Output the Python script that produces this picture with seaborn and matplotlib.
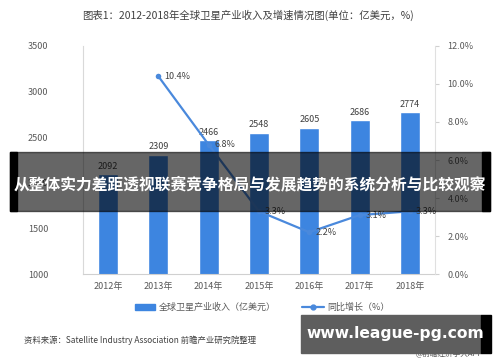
import numpy as np
import pandas as pd
import matplotlib
matplotlib.use('Agg')
import matplotlib.pyplot as plt
import seaborn as sns

years = ['2012年', '2013年', '2014年', '2015年', '2016年', '2017年', '2018年']
revenue = [2092, 2309, 2466, 2548, 2605, 2686, 2774]
growth = [np.nan, 10.4, 6.8, 3.3, 2.2, 3.1, 3.3]
left_ticks = [1000, 1500, 2000, 2500, 3000, 3500]
right_ticks = [0, 2, 4, 6, 8, 10, 12]

sns.set_style('white')
plt.rcParams['font.family'] = ['Noto Sans CJK SC', 'DejaVu Sans']

bar_blue = '#3d85e0'
line_blue = '#4a89dc'
txt = '#595959'

df = pd.DataFrame({'year': years, 'revenue': revenue, 'growth': growth})
df['pos'] = np.arange(len(df))

fig = plt.figure(figsize=(5, 3.62), dpi=100)
ax = fig.add_axes([0.166, 0.243, 0.704, 0.630])

sns.barplot(data=df, x='year', y='revenue', color=bar_blue, width=0.4,
            saturation=1, ax=ax)
ax.set_ylim(1000, 3500)
ax.set_yticks(left_ticks)
ax.set_xlim(-0.5, 6.5)
ax.set_xlabel('')
ax.set_ylabel('')
for i, v in enumerate(revenue):
    ax.text(i, v + 40, str(v), ha='center', va='bottom', fontsize=6.5, color='#404040')

ax.tick_params(axis='y', length=0, labelsize=6.5, labelcolor=txt, pad=25)
ax.tick_params(axis='x', length=0, labelsize=6.5, labelcolor=txt, pad=6)
ax.set_xticks(np.arange(-0.5, 7, 1), minor=True)
ax.tick_params(axis='x', which='minor', length=4, color='#d0d0d0', width=0.8)
for s in ['top', 'right']:
    ax.spines[s].set_visible(False)
ax.spines['left'].set_color('#d9d9d9')
ax.spines['bottom'].set_color('#d0d0d0')

ax2 = ax.twinx()
sns.lineplot(data=df.dropna(), x='pos', y='growth', color=line_blue, lw=1.6,
             marker='o', markersize=4, markeredgewidth=0, ax=ax2)
ax2.set_ylim(0, 12)
ax2.set_yticks(right_ticks)
ax2.set_yticklabels([f'{t:.1f}%' for t in right_ticks])
ax2.set_ylabel('')
ax2.set_xlim(-0.5, 6.5)
ax2.tick_params(axis='y', length=3, color='#d0d0d0', labelsize=6.5, labelcolor=txt, pad=6)
for s in ['top', 'left', 'bottom']:
    ax2.spines[s].set_visible(False)
ax2.spines['right'].set_color('#e0e0e0')
for i, g in enumerate(growth):
    if not np.isnan(g):
        ax2.text(i + 0.12, g, f'{g}%', ha='left', va='center', fontsize=6.5, color='#404040')

fig.text(0.496, 0.958, '图表1：2012-2018年全球卫星产业收入及增速情况图(单位：亿美元，%)',
         ha='center', va='center', fontsize=7.5, color='#404040')

# legend
fig.patches.append(plt.Rectangle((0.27, 0.143), 0.04, 0.018, transform=fig.transFigure,
                                 color=bar_blue, figure=fig))
fig.text(0.318, 0.151, '全球卫星产业收入（亿美元）', ha='left', va='center', fontsize=6.5, color=txt)
fig.lines.append(plt.Line2D([0.604, 0.648], [0.151, 0.151], transform=fig.transFigure,
                            color=line_blue, lw=1.6, figure=fig))
fig.lines.append(plt.Line2D([0.626], [0.151], transform=fig.transFigure,
                            color=line_blue, marker='o', markersize=3.5, lw=0, figure=fig))
fig.text(0.655, 0.151, '同比增长（%）', ha='left', va='center', fontsize=6.5, color=txt)

fig.text(0.048, 0.06, '资料来源：Satellite Industry Association 前瞻产业研究院整理',
         ha='left', va='center', fontsize=6, color='#404040', style='italic')

# overlay banners
fig.patches.append(plt.Rectangle((0.02, 0.417), 0.96, 0.163, transform=fig.transFigure,
                                 color='#000000', alpha=0.6, figure=fig, zorder=10))
fig.patches.append(plt.Rectangle((0.02, 0.417), 0.014, 0.163, transform=fig.transFigure,
                                 color='#000000', figure=fig, zorder=11))
fig.patches.append(plt.Rectangle((0.964, 0.417), 0.016, 0.163, transform=fig.transFigure,
                                 color='#000000', figure=fig, zorder=11))
fig.text(0.5, 0.49, '从整体实力差距透视联赛竞争格局与发展趋势的系统分析与比较观察',
         ha='center', va='center', fontsize=11.3, color='white', weight='bold', zorder=12)

fig.text(0.965, 0.022, '@前瞻经济学人APP', ha='right', va='center', fontsize=5.5, color='#555555')
fig.patches.append(plt.Rectangle((0.602, 0.025), 0.36, 0.105, transform=fig.transFigure,
                                 color='#5e5e5e', figure=fig, zorder=10))
fig.patches.append(plt.Rectangle((0.962, 0.025), 0.02, 0.105, transform=fig.transFigure,
                                 color='#000000', figure=fig, zorder=10))
fig.text(0.79, 0.078, 'www.league-pg.com', ha='center', va='center', fontsize=11.2,
         color='white', weight='bold', family=['DejaVu Sans'], zorder=12)

fig.savefig('out.png', dpi=100)
